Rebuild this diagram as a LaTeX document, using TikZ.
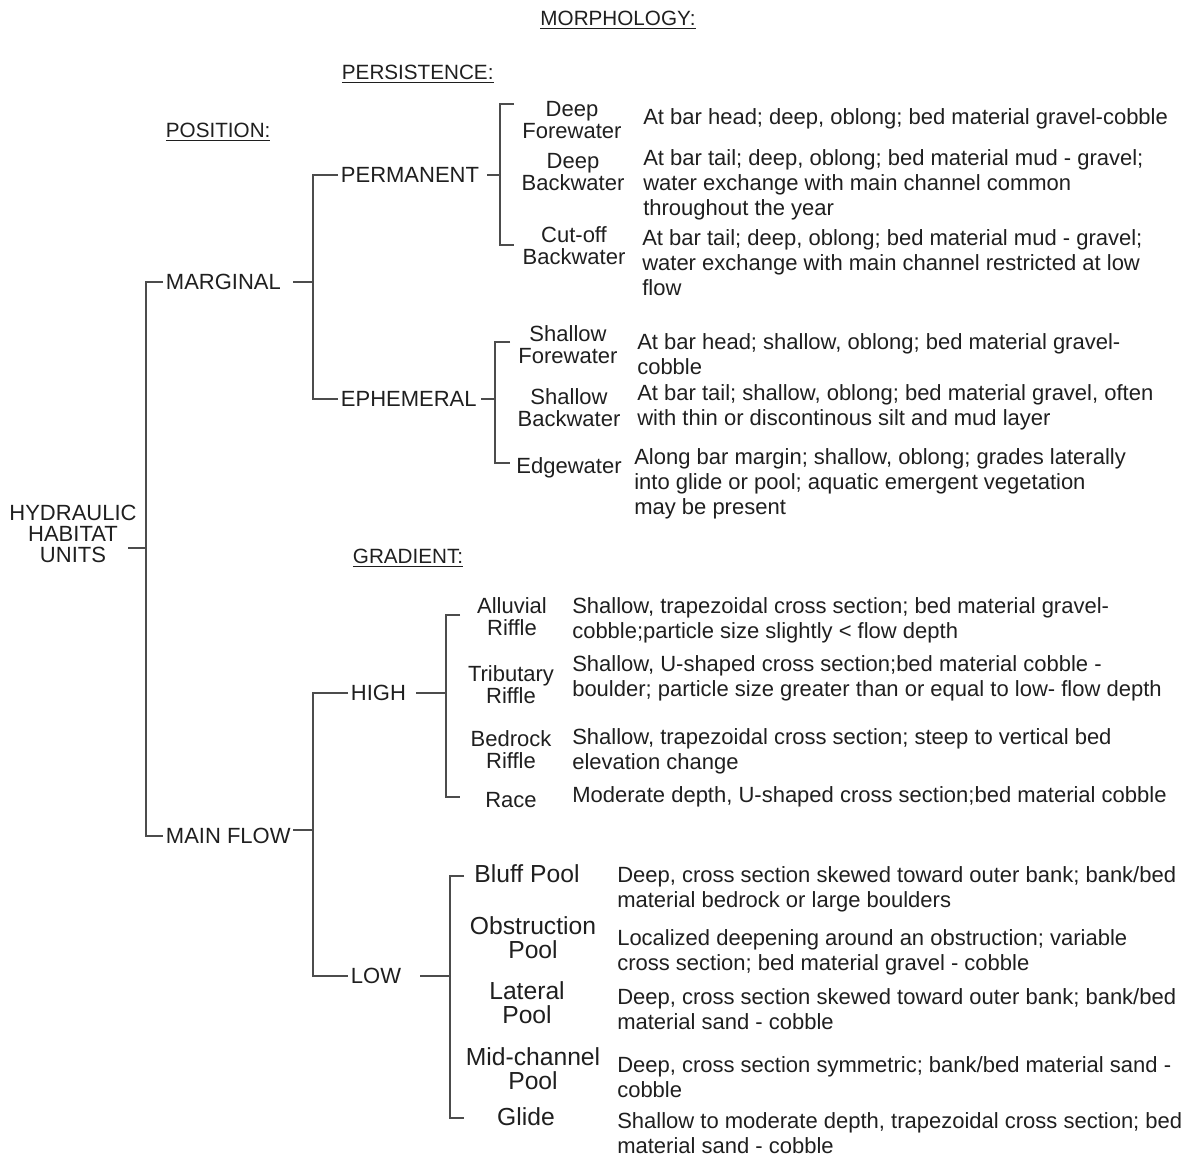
\documentclass[tikz,border=0pt]{standalone}
\usepackage{fontspec}
\setmainfont{Liberation Sans}
\begin{document}
\begin{tikzpicture}[x=0.75pt,y=-0.75pt,
  every node/.style={inner sep=2pt, text=black!88},
  desc/.style={anchor=base west, align=left, font=\fontsize{16.5}{18.75}\selectfont, inner sep=0pt},
  leaf/.style={align=center, font=\fontsize{16.5}{16.5}\selectfont},
  pool/.style={align=center, font=\fontsize{18.5}{18}\selectfont},
  lvl/.style={anchor=west, font=\fontsize{16.5}{18}\selectfont},
  hdr/.style={anchor=west, font=\fontsize{15.5}{18}\selectfont},
  lnk/.style={draw=black!70, line width=0.9pt}]
\useasboundingbox (0,0) rectangle (1193,1156);

% headers
\node[hdr, anchor=center] (hmorph) at (618,20) {\underline{MORPHOLOGY:}};
\node[hdr] (hpers) at (339,74) {\underline{PERSISTENCE:}};
\node[hdr] (hpos) at (163,132) {\underline{POSITION:}};
\node[hdr] (hgrad) at (350,558) {\underline{GRADIENT:}};

% root and levels
\node[align=center, font=\fontsize{16.5}{15.75}\selectfont] (root) at (73,534) {HYDRAULIC\\HABITAT\\UNITS};
\node[lvl] (marg) at (163,282) {MARGINAL};
\node[lvl] (main) at (163,836) {MAIN FLOW};
\node[lvl] (perm) at (338,175) {PERMANENT};
\node[lvl] (ephe) at (338,399) {EPHEMERAL};
\node[lvl] (high) at (348,693) {HIGH};
\node[lvl] (low) at (348,976) {LOW};

% leaves
\node[leaf] (dfw) at (572,120) {Deep\\Forewater};
\node[leaf] (dbw) at (573,172) {Deep\\Backwater};
\node[leaf] (cbw) at (574,246) {Cut-off\\Backwater};
\node[leaf] (sfw) at (568,345) {Shallow\\Forewater};
\node[leaf] (sbw) at (569,408) {Shallow\\Backwater};
\node[leaf] (edg) at (569,468) {Edgewater};
\node[leaf] (alr) at (512,617) {Alluvial\\Riffle};
\node[leaf] (trr) at (511,685) {Tributary\\Riffle};
\node[leaf] (bdr) at (511,750) {Bedrock\\Riffle};
\node[leaf] (rac) at (511,800) {Race};
\node[pool] (blp) at (527,874) {Bluff Pool};
\node[pool] (obp) at (533,938) {Obstruction\\Pool};
\node[pool] (lap) at (527,1003) {Lateral\\Pool};
\node[pool] (mcp) at (533,1069) {Mid-channel\\Pool};
\node[pool] (gld) at (526,1117) {Glide};

% descriptions (anchor = baseline of the last line)
\node[desc] (t1) at (643,125) {At bar head; deep, oblong; bed material gravel-cobble};
\node[desc] (t2) at (643,215) {At bar tail; deep, oblong; bed material mud - gravel;\\water exchange with main channel common\\throughout the year};
\node[desc] (t3) at (642,295) {At bar tail; deep, oblong; bed material mud - gravel;\\water exchange with main channel restricted at low\\flow};
\node[desc] (t4) at (637,374) {At bar head; shallow, oblong; bed material gravel-\\cobble};
\node[desc] (t5) at (637,425) {At bar tail; shallow, oblong; bed material gravel, often\\with thin or discontinous silt and mud layer};
\node[desc] (t6) at (634,514) {Along bar margin; shallow, oblong; grades laterally\\into glide or pool; aquatic emergent vegetation\\may be present};
\node[desc] (t7) at (572,638) {Shallow, trapezoidal cross section; bed material gravel-\\cobble;particle size slightly < flow depth};
\node[desc] (t8) at (572,696) {Shallow, U-shaped cross section;bed material cobble -\\boulder; particle size greater than or equal to low- flow depth};
\node[desc] (t9) at (572,769) {Shallow, trapezoidal cross section; steep to vertical bed\\elevation change};
\node[desc] (t10) at (572,802) {Moderate depth, U-shaped cross section;bed material cobble};
\node[desc] (t11) at (617,907) {Deep, cross section skewed toward outer bank; bank/bed\\material bedrock or large boulders};
\node[desc] (t12) at (617,970) {Localized deepening around an obstruction; variable\\cross section; bed material gravel - cobble};
\node[desc] (t13) at (617,1029) {Deep, cross section skewed toward outer bank; bank/bed\\material sand - cobble};
\node[desc] (t14) at (617,1097) {Deep, cross section symmetric; bank/bed material sand -\\cobble};
\node[desc] (t15) at (617,1153) {Shallow to moderate depth, trapezoidal cross section; bed\\material sand - cobble};

% junctions
\coordinate (r0) at (128,548);
\coordinate (jr) at (146,548);
\coordinate (m0) at (293,282);
\coordinate (jm) at (313,282);
\coordinate (f0) at (293,830);
\coordinate (jf) at (313,830);
\coordinate (p0) at (487,175);
\coordinate (jp) at (500,175);
\coordinate (e0) at (481,399);
\coordinate (je) at (495,399);
\coordinate (h0) at (416,693);
\coordinate (jh) at (446,693);
\coordinate (l0) at (420,976);
\coordinate (jl) at (450,976);
\coordinate (pa) at (514,104);
\coordinate (pb) at (514,245);
\coordinate (ea) at (510,342);
\coordinate (eb) at (510,463);
\coordinate (ha) at (460,615);
\coordinate (hb) at (460,797);
\coordinate (la) at (464,876);
\coordinate (lb) at (464,1118);

% connectors
\draw[lnk] (r0) -- (jr);
\draw[lnk] (marg.west) -| (jr) |- (main.west);
\draw[lnk] (m0) -- (jm);
\draw[lnk] (perm.west) -| (jm) |- (ephe.west);
\draw[lnk] (f0) -- (jf);
\draw[lnk] (high.west) -| (jf) |- (low.west);
\draw[lnk] (p0) -- (jp);
\draw[lnk] (pa) -| (jp) |- (pb);
\draw[lnk] (e0) -- (je);
\draw[lnk] (ea) -| (je) |- (eb);
\draw[lnk] (h0) -- (jh);
\draw[lnk] (ha) -| (jh) |- (hb);
\draw[lnk] (l0) -- (jl);
\draw[lnk] (la) -| (jl) |- (lb);
\end{tikzpicture}
\end{document}
